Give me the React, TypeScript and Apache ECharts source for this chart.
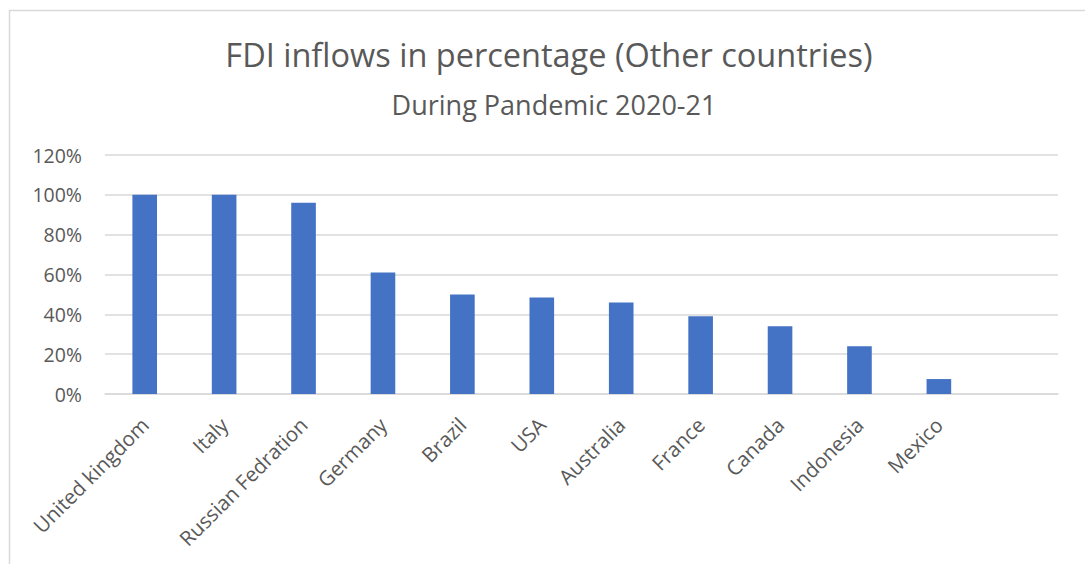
import React, { useEffect, useRef } from "react";
import * as echarts from "echarts";

const titleText = "FDI inflows in percentage (Other countries)";
const subtitleText = "During Pandemic 2020-21";
const countries = [
  "United kingdom",
  "Italy",
  "Russian Fedration",
  "Germany",
  "Brazil",
  "USA",
  "Australia",
  "France",
  "Canada",
  "Indonesia",
  "Mexico",
  "",
];
const values = [1.0, 1.0, 0.96, 0.61, 0.5, 0.485, 0.46, 0.39, 0.34, 0.24, 0.075, null];

export default function App() {
  const ref = useRef<HTMLDivElement>(null);
  useEffect(() => {
    if (!ref.current) return;
    const chart = echarts.init(ref.current, null, { renderer: "svg" });
    const font = "'Open Sans', sans-serif";
    chart.setOption({
      animation: false,
      backgroundColor: "#ffffff",
      graphic: [
        {
          type: "line",
          shape: { x1: 9, y1: 10.5, x2: 1085, y2: 10.5 },
          style: { stroke: "#d9d9d9", lineWidth: 1.5 },
        },
        {
          type: "line",
          shape: { x1: 9.5, y1: 10, x2: 9.5, y2: 564 },
          style: { stroke: "#d9d9d9", lineWidth: 1.5 },
        },
        {
          type: "text",
          x: 549,
          y: 54,
          style: {
            text: titleText,
            align: "center",
            verticalAlign: "middle",
            fontFamily: font,
            fontSize: 32.5,
            fill: "#595959",
          },
        },
        {
          type: "text",
          x: 554,
          y: 104.5,
          style: {
            text: subtitleText,
            align: "center",
            verticalAlign: "middle",
            fontFamily: font,
            fontSize: 27,
            fill: "#595959",
          },
        },
      ],
      grid: { left: 105, right: 27, top: 155, bottom: 170, containLabel: false },
      xAxis: {
        type: "category",
        data: countries,
        axisLine: { lineStyle: { color: "#d9d9d9", width: 1.5 } },
        axisTick: { show: false },
        axisLabel: {
          interval: 0,
          rotate: 45,
          margin: 27,
          color: "#595959",
          fontFamily: font,
          fontSize: 20.5,
        },
      },
      yAxis: {
        type: "value",
        min: 0,
        max: 1.2,
        interval: 0.2,
        axisLine: { show: false },
        axisTick: { show: false },
        splitLine: { lineStyle: { color: "#d9d9d9", width: 1.5 } },
        axisLabel: {
          margin: 23,
          color: "#595959",
          fontFamily: font,
          fontSize: 19.5,
          formatter: (v: number) => Math.round(v * 100) + "%",
        },
      },
      series: [
        {
          type: "bar",
          data: values,
          barWidth: "31%",
          itemStyle: { color: "#4472C4" },
        },
      ],
    });
    return () => chart.dispose();
  }, []);
  return (
    <div
      ref={ref}
      style={{ position: "fixed", left: 0, top: 0, width: 1085, height: 564 }}
    />
  );
}
